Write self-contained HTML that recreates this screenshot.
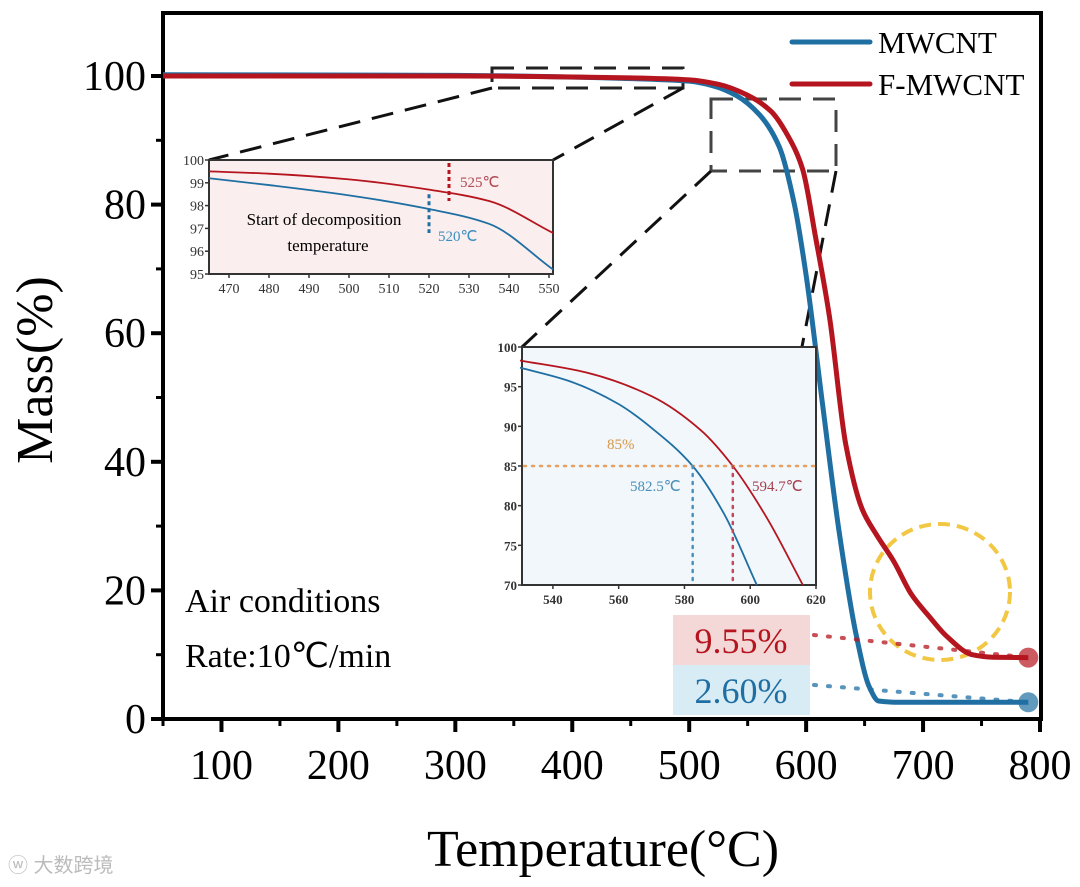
<!DOCTYPE html>
<html><head><meta charset="utf-8"><style>
html,body{margin:0;padding:0;background:#fff;}
svg{display:block;font-family:"Liberation Serif",serif;}
</style></head><body>
<svg id="chart" width="1080" height="887" viewBox="0 0 1080 887"></svg>
<script>
// ---- main chart data ----
const mwcntT = [50,300,450,500,520,540,560,577,590,600,614,628,643,654,662,680,790];
const mwcntM = [100.2,100.1,99.6,99.2,98.5,97,94,89,80,69,49,29.4,12.9,5,2.8,2.6,2.6];
const fmwcntT = [50,300,450,500,525,550,570,585,597,608,620,634,648,660,675,690,705,720,742,760,790];
const fmwcntM = [100,100,99.7,99.4,98.7,97,94.5,90.5,85.5,75,62.5,42.6,32.6,28.7,24.5,19.4,16,12.9,10,9.6,9.55];
const xTicks = [100,200,300,400,500,600,700,800];
const yTicks = [0,20,40,60,80,100];
const residueLabels = ["9.55%","2.60%"];
const residueValues = [9.55,2.6];
// inset 1
const in1XTicks = [470,480,490,500,510,520,530,540,550];
const in1YTicks = [95,96,97,98,99,100];
const in1MT = [465,480,500,520,535,551];
const in1MM = [99.2,98.9,98.45,97.85,97.2,95.2];
const in1FT = [465,480,500,520,535,551];
const in1FM = [99.5,99.4,99.15,98.7,98.2,96.8];
// inset 2
const in2XTicks = [540,560,580,600,620];
const in2YTicks = [70,75,80,85,90,95,100];
const in2MT = [530,545,560,570,582.5,592,602];
const in2MM = [97.4,95.7,92.8,89.8,85,79,70];
const in2FT = [530,550,570,585,594.7,605,616];
const in2FM = [98.3,96.8,93.8,89.5,85,78.5,70];

const NS="http://www.w3.org/2000/svg";
const svg=document.getElementById('chart');
function mk(tag,attrs,parent){const e=document.createElementNS(NS,tag);for(const k in attrs)e.setAttribute(k,attrs[k]);(parent||svg).appendChild(e);return e;}
function scale(d0,d1,r0,r1){return v=>r0+(v-d0)*(r1-r0)/(d1-d0);}
// monotone cubic (Fritsch-Carlson) path through pixel points with increasing x
function smooth(p){
 const n=p.length,dx=[],m=[],t=[];
 for(let i=0;i<n-1;i++){dx[i]=p[i+1][0]-p[i][0];m[i]=(p[i+1][1]-p[i][1])/dx[i];}
 t[0]=m[0];t[n-1]=m[n-2];
 for(let i=1;i<n-1;i++){if(m[i-1]*m[i]<=0)t[i]=0;else{const w1=2*dx[i]+dx[i-1],w2=dx[i]+2*dx[i-1];t[i]=(w1+w2)/(w1/m[i-1]+w2/m[i]);}}
 let d='M'+p[0][0]+','+p[0][1];
 for(let i=0;i<n-1;i++){const h=dx[i]/3;d+=' C'+(p[i][0]+h)+','+(p[i][1]+t[i]*h)+' '+(p[i+1][0]-h)+','+(p[i+1][1]-t[i+1]*h)+' '+p[i+1][0]+','+p[i+1][1];}
 return d;
}

const X=scale(50,800,163,1040), Y=scale(0,100,719,76);
const BLUE="#1f6fa3", RED="#b5151e";

let e;
e=mk('rect',{x:163,y:13,width:878,height:706,fill:'none',stroke:'#000','stroke-width':4});


xTicks.forEach(t=>{
 e=mk('line',{x1:X(t),x2:X(t),y1:719,y2:732,stroke:'#000','stroke-width':4});
 
 e=mk('text',{x:X(t),y:779,'font-size':42,'text-anchor':'middle'});e.textContent=t;
 
 e=mk('line',{x1:X(t-50),x2:X(t-50),y1:719,y2:726,stroke:'#000','stroke-width':3});
 
});
yTicks.forEach(t=>{
 e=mk('line',{x1:151,x2:163,y1:Y(t),y2:Y(t),stroke:'#000','stroke-width':4});
 
 e=mk('text',{x:146,y:Y(t)+14,'font-size':42,'text-anchor':'end'});e.textContent=t;
 
 if(t<100){e=mk('line',{x1:156,x2:163,y1:Y(t+10),y2:Y(t+10),stroke:'#000','stroke-width':3});
 }
});
e=mk('text',{x:0,y:0,'font-size':52,'text-anchor':'middle',transform:'translate(52,370) rotate(-90)'});e.textContent='Mass(%)';

e=mk('text',{x:603,y:866,'font-size':52,'text-anchor':'middle'});e.textContent='Temperature(°C)';


e=mk('text',{x:185,y:612,'font-size':34});e.textContent='Air conditions';

e=mk('text',{x:185,y:667,'font-size':34});e.textContent='Rate:10℃/min';


const dash={fill:'none',stroke:'#222','stroke-width':3,'stroke-dasharray':'22,12'};
e=mk('rect',Object.assign({x:492,y:68,width:191,height:20},dash));

e=mk('rect',Object.assign({x:711,y:99,width:125,height:72},dash,{stroke:'#444'}));

[[492,88,209,160],[683,88,553,160],[711,171,522,347],[836,171,800,357]].forEach(l=>{
 e=mk('line',Object.assign({x1:l[0],y1:l[1],x2:l[2],y2:l[3]},dash,{stroke:'#111'}));
 
});

e=mk('ellipse',{cx:940,cy:592,rx:70,ry:68,fill:'none',stroke:'#f2c744','stroke-width':4,'stroke-dasharray':'12,7'});


e=mk('path',{d:smooth(mwcntT.map((t,i)=>[X(t),Y(mwcntM[i])])),fill:'none',stroke:BLUE,'stroke-width':5});

e=mk('path',{d:smooth(fmwcntT.map((t,i)=>[X(t),Y(fmwcntM[i])])),fill:'none',stroke:RED,'stroke-width':5});


const resCol=[RED,BLUE], resBg=['#f4d8d8','#d8ecf6'];
residueLabels.forEach((lab,i)=>{
 const top=615+i*50;
 e=mk('rect',{x:673,y:top,width:137,height:50,fill:resBg[i]});
 
 e=mk('text',{x:741,y:top+38,'font-size':36,'text-anchor':'middle',fill:resCol[i]});e.textContent=lab;
 
 e=mk('line',{x1:814,y1:top+20,x2:X(790),y2:Y(residueValues[i]),stroke:resCol[i],'stroke-width':4,'stroke-dasharray':'2,12','stroke-linecap':'round',opacity:0.75});
 
 e=mk('circle',{cx:X(790),cy:Y(residueValues[i]),r:10,fill:resCol[i],opacity:0.7});
 
});

[[BLUE,'MWCNT',42],[RED,'F-MWCNT',84]].forEach(l=>{
 e=mk('line',{x1:792,x2:870,y1:l[2],y2:l[2],stroke:l[0],'stroke-width':5,'stroke-linecap':'round'});
 
 e=mk('text',{x:878,y:l[2]+11,'font-size':31});e.textContent=l[1];
 
});

function inset(o){
 const x=scale(o.xd[0],o.xd[1],o.l,o.r), y=scale(o.yd[0],o.yd[1],o.b,o.t);
 let g=mk('g',{});
 
 e=mk('rect',{x:o.l,y:o.t,width:o.r-o.l,height:o.b-o.t,fill:o.bg,stroke:'#333','stroke-width':2},g);
 
 o.xt.forEach(t=>{
  e=mk('line',{x1:x(t),x2:x(t),y1:o.b,y2:o.b+4,stroke:'#333','stroke-width':1.5},g);
  
  e=mk('text',{x:x(t),y:o.b+19,'font-size':o.fs,'text-anchor':'middle',fill:'#333','font-weight':o.fw},g);e.textContent=t;
  
 });
 o.yt.forEach(t=>{
  e=mk('line',{x1:o.l-4,x2:o.l,y1:y(t),y2:y(t),stroke:'#333','stroke-width':1.5},g);
  
  e=mk('text',{x:o.l-5,y:y(t)+5,'font-size':o.fs,'text-anchor':'end',fill:'#333','font-weight':o.fw},g);e.textContent=t;
  
 });
 e=mk('path',{d:smooth(o.mt.map((t,i)=>[x(t),y(o.mm[i])])),fill:'none',stroke:BLUE,'stroke-width':1.8},g);
 
 e=mk('path',{d:smooth(o.ft.map((t,i)=>[x(t),y(o.fm[i])])),fill:'none',stroke:RED,'stroke-width':1.8},g);
 
 return {g,x,y};
}
const i1=inset({name:'onset-inset',l:209,r:553,t:160,b:274,xd:[465,551],yd:[95,100],bg:'#fbeeee',xt:in1XTicks,yt:in1YTicks,mt:in1MT,mm:in1MM,ft:in1FT,fm:in1FM,fs:14,fw:'normal'});
e=mk('line',{x1:i1.x(525),x2:i1.x(525),y1:163,y2:i1.y(98.2),stroke:RED,'stroke-width':3,'stroke-dasharray':'4,3'},i1.g);

e=mk('line',{x1:i1.x(520),x2:i1.x(520),y1:i1.y(98.5),y2:i1.y(96.8),stroke:BLUE,'stroke-width':3,'stroke-dasharray':'4,3'},i1.g);

e=mk('text',{x:460,y:187,'font-size':15,fill:'#b04a55'},i1.g);e.textContent='525℃';

e=mk('text',{x:438,y:241,'font-size':15,fill:'#3a8fc0'},i1.g);e.textContent='520℃';

e=mk('text',{x:324,y:225,'font-size':17,'text-anchor':'middle'},i1.g);e.textContent='Start of decomposition';

e=mk('text',{x:328,y:251,'font-size':17,'text-anchor':'middle'},i1.g);e.textContent='temperature';


const i2=inset({name:'t85-inset',l:522,r:816,t:347,b:585,xd:[530.6,620],yd:[70,100],bg:'#f1f7fb',xt:in2XTicks,yt:in2YTicks,mt:in2MT,mm:in2MM,ft:in2FT,fm:in2FM,fs:13,fw:'bold'});
e=mk('line',{x1:524,x2:814,y1:i2.y(85),y2:i2.y(85),stroke:'#e8a060','stroke-width':2.5,'stroke-dasharray':'2,6','stroke-linecap':'round'},i2.g);

e=mk('line',{x1:i2.x(582.5),x2:i2.x(582.5),y1:i2.y(85),y2:584,stroke:'#4a90c0','stroke-width':2.5,'stroke-dasharray':'2,6','stroke-linecap':'round'},i2.g);

e=mk('line',{x1:i2.x(594.7),x2:i2.x(594.7),y1:i2.y(85),y2:584,stroke:'#c0485a','stroke-width':2.5,'stroke-dasharray':'2,6','stroke-linecap':'round'},i2.g);

e=mk('text',{x:607,y:449,'font-size':15,fill:'#d9964a'},i2.g);e.textContent='85%';

e=mk('text',{x:630,y:491,'font-size':15,fill:'#4a8fb8'},i2.g);e.textContent='582.5℃';

e=mk('text',{x:752,y:491,'font-size':15,fill:'#a84050'},i2.g);e.textContent='594.7℃';


e=mk('text',{x:8,y:872,'font-size':20,fill:'#bbb','font-family':'"Liberation Sans","Noto Sans CJK SC",sans-serif'});e.textContent='ⓦ 大数跨境';

</script>
</body></html>
